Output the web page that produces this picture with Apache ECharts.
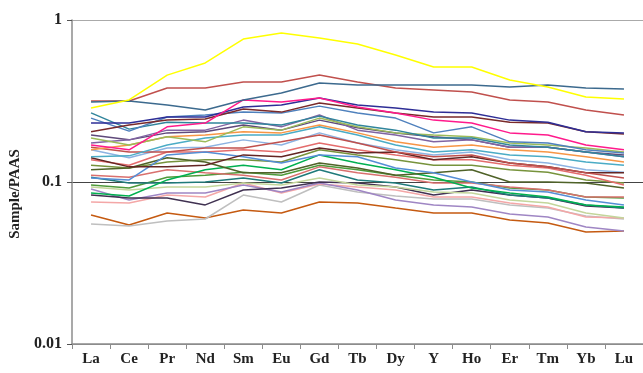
<!DOCTYPE html>
<html>
<head>
<meta charset="utf-8">
<script src="https://cdn.jsdelivr.net/npm/echarts@6/dist/echarts.min.js"></script>
<style>
  html, body { margin: 0; padding: 0; background: #fff; }
  #chart { width: 643px; height: 373px; }
</style>
</head>
<body>
<div id="chart"></div>
<script>
// REE elements on the x axis
var elements = ['La', 'Ce', 'Pr', 'Nd', 'Sm', 'Eu', 'Gd', 'Tb', 'Dy', 'Y', 'Ho', 'Er', 'Tm', 'Yb', 'Lu'];

// sample/PAAS values, one array per sample
var s01 = [0.286, 0.321, 0.457, 0.543, 0.763, 0.831, 0.774, 0.711, 0.608, 0.513, 0.513, 0.426, 0.386, 0.335, 0.325];
var s02 = [0.312, 0.316, 0.299, 0.278, 0.321, 0.354, 0.408, 0.397, 0.397, 0.397, 0.397, 0.386, 0.397, 0.380, 0.375];
var s03 = [0.316, 0.316, 0.380, 0.380, 0.414, 0.414, 0.457, 0.414, 0.380, 0.370, 0.359, 0.321, 0.312, 0.278, 0.259];
var s04 = [0.169, 0.158, 0.219, 0.231, 0.321, 0.312, 0.330, 0.290, 0.267, 0.241, 0.231, 0.201, 0.195, 0.169, 0.158];
var s05 = [0.231, 0.231, 0.252, 0.252, 0.290, 0.299, 0.330, 0.299, 0.286, 0.270, 0.267, 0.241, 0.234, 0.204, 0.201];
var s06 = [0.204, 0.225, 0.241, 0.245, 0.282, 0.270, 0.307, 0.286, 0.267, 0.252, 0.252, 0.234, 0.231, 0.204, 0.198];
var s07 = [0.248, 0.206, 0.252, 0.259, 0.270, 0.267, 0.294, 0.267, 0.248, 0.201, 0.219, 0.177, 0.174, 0.158, 0.151];
var s08 = [0.267, 0.212, 0.234, 0.231, 0.231, 0.225, 0.255, 0.225, 0.209, 0.187, 0.187, 0.169, 0.164, 0.153, 0.143];
var s09 = [0.187, 0.169, 0.190, 0.177, 0.219, 0.209, 0.248, 0.219, 0.201, 0.195, 0.190, 0.174, 0.169, 0.162, 0.153];
var s10 = [0.174, 0.182, 0.209, 0.209, 0.241, 0.219, 0.259, 0.209, 0.195, 0.177, 0.182, 0.164, 0.164, 0.153, 0.143];
var s11 = [0.158, 0.169, 0.190, 0.195, 0.204, 0.201, 0.225, 0.201, 0.177, 0.164, 0.169, 0.158, 0.153, 0.143, 0.133];
var s12 = [0.143, 0.145, 0.169, 0.187, 0.195, 0.195, 0.219, 0.195, 0.169, 0.153, 0.158, 0.147, 0.143, 0.133, 0.127];
var s13 = [0.164, 0.153, 0.153, 0.162, 0.162, 0.177, 0.195, 0.174, 0.153, 0.143, 0.147, 0.131, 0.124, 0.114, 0.106];
var s14 = [0.141, 0.124, 0.124, 0.127, 0.147, 0.143, 0.162, 0.151, 0.153, 0.137, 0.143, 0.131, 0.124, 0.114, 0.114];
var s15 = [0.106, 0.103, 0.147, 0.153, 0.143, 0.131, 0.147, 0.143, 0.122, 0.114, 0.100, 0.0893, 0.0868, 0.0774, 0.0722];
var s16 = [0.119, 0.122, 0.141, 0.133, 0.114, 0.114, 0.131, 0.122, 0.110, 0.114, 0.119, 0.100, 0.100, 0.0986, 0.0918];
var s17 = [0.0855, 0.0820, 0.103, 0.119, 0.127, 0.119, 0.147, 0.131, 0.119, 0.107, 0.0918, 0.0855, 0.0808, 0.0722, 0.0701];
var s18 = [0.110, 0.107, 0.119, 0.114, 0.110, 0.103, 0.124, 0.114, 0.107, 0.0986, 0.0986, 0.0931, 0.0893, 0.0808, 0.0808];
var s19 = [0.107, 0.0986, 0.0986, 0.100, 0.106, 0.0986, 0.119, 0.103, 0.0986, 0.0893, 0.0931, 0.0831, 0.0797, 0.0722, 0.0691];
var s20 = [0.0931, 0.0893, 0.0931, 0.0931, 0.0986, 0.0958, 0.106, 0.0958, 0.0931, 0.0868, 0.0855, 0.0774, 0.0742, 0.0644, 0.0600];
var s21 = [0.0831, 0.0797, 0.0797, 0.0722, 0.0893, 0.0918, 0.100, 0.0986, 0.0931, 0.0831, 0.0893, 0.0831, 0.0797, 0.0711, 0.0691];
var s22 = [0.0906, 0.0774, 0.0855, 0.0855, 0.0958, 0.0868, 0.0986, 0.0893, 0.0774, 0.0722, 0.0701, 0.0635, 0.0608, 0.0527, 0.0498];
var s23 = [0.0753, 0.0742, 0.0831, 0.0808, 0.0986, 0.0855, 0.0972, 0.0931, 0.0893, 0.0808, 0.0808, 0.0742, 0.0701, 0.0608, 0.0600];
var s24 = [0.0550, 0.0535, 0.0575, 0.0591, 0.0831, 0.0753, 0.0958, 0.0868, 0.0820, 0.0785, 0.0785, 0.0722, 0.0691, 0.0617, 0.0591];
var s25 = [0.0626, 0.0543, 0.0644, 0.0600, 0.0672, 0.0644, 0.0753, 0.0742, 0.0691, 0.0644, 0.0644, 0.0583, 0.0558, 0.0491, 0.0498];
var s26 = [0.158, 0.141, 0.162, 0.164, 0.182, 0.169, 0.201, 0.174, 0.158, 0.147, 0.153, 0.137, 0.131, 0.119, 0.115];
var s27 = [0.137, 0.127, 0.153, 0.153, 0.158, 0.153, 0.174, 0.158, 0.147, 0.137, 0.137, 0.127, 0.122, 0.110, 0.0958];
var s28 = [0.127, 0.122, 0.133, 0.137, 0.137, 0.133, 0.158, 0.147, 0.137, 0.127, 0.127, 0.119, 0.115, 0.103, 0.0986];
var s29 = [0.195, 0.182, 0.201, 0.204, 0.225, 0.209, 0.241, 0.216, 0.201, 0.190, 0.182, 0.164, 0.164, 0.153, 0.147];
var s30 = [0.0958, 0.0918, 0.107, 0.110, 0.115, 0.110, 0.127, 0.119, 0.110, 0.103, 0.100, 0.0918, 0.0893, 0.0808, 0.0797];

var samples = [s01, s02, s03, s04, s05, s06, s07, s08, s09, s10, s11, s12, s13, s14, s15,
               s16, s17, s18, s19, s20, s21, s22, s23, s24, s25, s26, s27, s28, s29, s30];

// line colours, same order as samples
var colors = ['#ffff00', '#3c6a8e', '#c0504d', '#ff1a8c', '#2e2e96', '#7a2a2a', '#4f81bd', '#31859c',
              '#9bbb59', '#8064a2', '#f79646', '#4bacc6', '#c0504d', '#632523', '#558ed5', '#4f6228',
              '#00b050', '#d9706e', '#1f7a7a', '#c3d69b', '#403151', '#9f86c4', '#f4a7a7', '#bfbfbf',
              '#c55a11', '#8db3e2', '#e46c6c', '#77933c', '#5f497a', '#4e9a3a'];

var serif = '"Liberation Serif", "DejaVu Serif", serif';

var chart = echarts.init(document.getElementById('chart'));

var series = samples.map(function (d, i) {
    return {
        type: 'line',
        data: d,
        symbol: 'none',
        smooth: false,
        lineStyle: { width: 1.5, color: colors[i] },
        itemStyle: { color: colors[i] },
        z: 2 + (samples.length - i)
    };
});

chart.setOption({
    animation: false,
    grid: { left: 71, top: 20, width: 577, bottom: 29, containLabel: false },
    xAxis: {
        type: 'category',
        data: elements,
        boundaryGap: true,
        axisLine: { lineStyle: { color: '#8c8c8c', width: 1.5 } },
        axisTick: { show: true, length: 5, lineStyle: { color: '#8c8c8c' } },
        axisLabel: {
            color: '#222', fontFamily: serif, fontWeight: 'bold', fontSize: 15, margin: 8
        },
        splitLine: { show: false }
    },
    yAxis: {
        type: 'log',
        logBase: 10,
        min: 0.01,
        max: 1,
        name: 'Sample/PAAS',
        nameLocation: 'middle',
        nameGap: 49,
        nameRotate: 90,
        nameTextStyle: {
            color: '#222', fontFamily: serif, fontWeight: 'bold', fontSize: 15,
            padding: [0, 0, 0, -24]
        },
        axisLine: { show: true, lineStyle: { color: '#8c8c8c', width: 1.5 } },
        axisTick: { show: true, inside: false, length: 5, lineStyle: { color: '#555' } },
        minorTick: { show: false },
        axisLabel: {
            color: '#222', fontFamily: serif, fontWeight: 'bold', fontSize: 16, margin: 10,
            formatter: function (v) { return String(+v.toPrecision(3)); }
        },
        splitLine: {
            show: true,
            lineStyle: { color: ['#8c8c8c', '#444', '#aaaaaa'], width: 1.2 }
        }
    },
    series: series
});
</script>
</body>
</html>
